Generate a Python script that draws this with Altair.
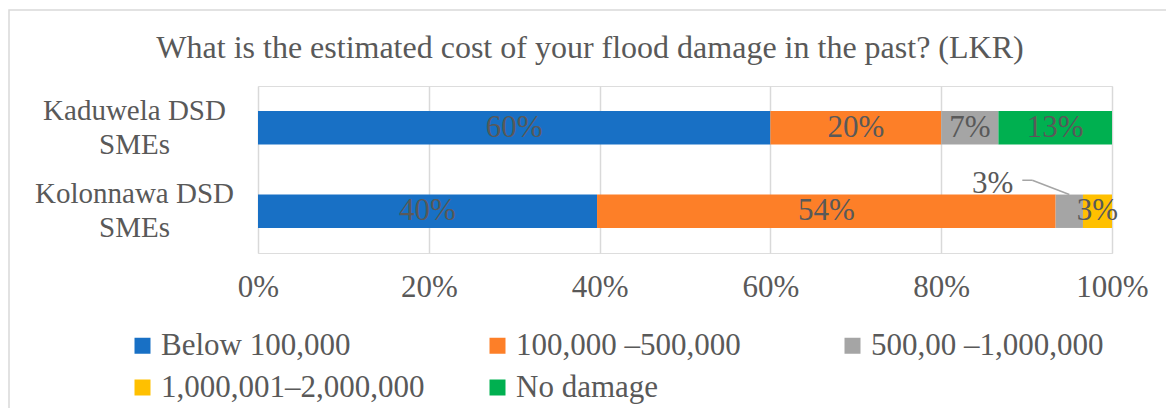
import altair as alt
import pandas as pd

title_text = "What is the estimated cost of your flood damage in the past? (LKR)"
categories = ["Kaduwela DSD\nSMEs", "Kolonnawa DSD\nSMEs"]
series = ["Below 100,000", "100,000 –500,000", "500,00 –1,000,000",
          "1,000,001–2,000,000", "No damage"]
colors = ["#1870C5", "#FD7F28", "#A5A5A5", "#FFC000", "#00B050"]
kaduwela = [60.0, 20.0, 6.7, 0.0, 13.3]
kolonnawa = [39.7, 53.7, 3.2, 3.4, 0.0]
kaduwela_labels = ["60%", "20%", "7%", "", "13%"]
kolonnawa_labels = ["40%", "54%", "3%", "3%", ""]

rows = []
for cat, vals, labs in [(categories[0], kaduwela, kaduwela_labels),
                        (categories[1], kolonnawa, kolonnawa_labels)]:
    start = 0.0
    for i, (s, v, lab) in enumerate(zip(series, vals, labs)):
        if v > 0:
            rows.append({"cat": cat, "series": s, "order": i, "value": v,
                         "start": start, "end": start + v,
                         "mid": start + v / 2, "label": lab})
        start += v
df = pd.DataFrame(rows)

FONT = "Liberation Serif"
TXT = "#595959"
W, H = 854, 167

yenc = alt.Y("cat:N", sort=categories, title=None,
             scale=alt.Scale(paddingInner=0.6, paddingOuter=0.3),
             axis=alt.Axis(labelExpr="split(datum.label, '\\n')",
                           labelAlign="center", labelBaseline="middle",
                           labelPadding=124, labelFontSize=29,
                           labelLineHeight=34, labelOffset=-17,
                           labelColor=TXT,
                           labelFont=FONT, domain=False, ticks=False,
                           grid=False, labelLimit=400))

base = alt.Chart(df)
one = pd.DataFrame({"a": [0]})

border = alt.Chart(one).mark_rect(
    fill="transparent", stroke="#D9D9D9", strokeWidth=1.5
).encode(x=alt.value(-249), x2=alt.value(W + 200),
         y=alt.value(-76), y2=alt.value(H + 300))

title = alt.Chart(one).mark_text(
    text=title_text, font=FONT, fontSize=32, color=TXT,
    align="center", baseline="alphabetic"
).encode(x=alt.value(332), y=alt.value(-28))

bars = base.mark_bar().encode(
    x=alt.X("start:Q", scale=alt.Scale(domain=[0, 100], nice=False),
            title=None,
            axis=alt.Axis(values=[0, 20, 40, 60, 80, 100],
                          labelExpr="datum.value + '%'",
                          labelFontSize=31, labelColor=TXT, labelFont=FONT,
                          labelPadding=19, labelFlush=False,
                          domain=False, ticks=False,
                          grid=True, gridColor="#D9D9D9", gridWidth=1.5)),
    x2="end:Q",
    y=yenc,
    color=alt.Color("series:N", sort=series,
                    scale=alt.Scale(domain=series, range=colors),
                    legend=alt.Legend(title=None, orient="none",
                                      legendX=-131, legendY=244,
                                      direction="horizontal", columns=3,
                                      gridAlign="all", columnPadding=57,
                                      rowPadding=10, padding=0,
                                      symbolType="square", symbolSize=256,
                                      symbolStrokeWidth=0, labelOffset=3,
                                      labelFontSize=31, labelFont=FONT,
                                      labelColor=TXT, labelLimit=500)),
)

normal = df[~((df["cat"] == categories[1]) & (df["series"] == series[2]))]
callout = df[(df["cat"] == categories[1]) & (df["series"] == series[2])]

labels = alt.Chart(normal).mark_text(
    font=FONT, fontSize=31, color=TXT, baseline="middle", align="center"
).encode(x="mid:Q", y=alt.Y("cat:N", sort=categories), text="label:N")

callout_text = alt.Chart(callout).mark_text(
    font=FONT, fontSize=31, color=TXT, baseline="middle", align="right",
    dx=-56, dy=-27
).encode(x="mid:Q", y=alt.Y("cat:N", sort=categories), text="label:N")

leader1 = alt.Chart(callout).mark_rule(
    color="#A5A5A5", strokeWidth=1.5, yOffset=-16.7, y2Offset=-31,
    x2Offset=-37
).encode(x="mid:Q", x2="mid:Q", y=alt.Y("cat:N", sort=categories),
         y2="cat:N")

leader2 = alt.Chart(callout).mark_rule(
    color="#A5A5A5", strokeWidth=1.5, xOffset=-37, x2Offset=-47,
    yOffset=-31, y2Offset=-31
).encode(x="mid:Q", x2="mid:Q", y=alt.Y("cat:N", sort=categories),
         y2="cat:N")

chart = alt.layer(border, title, bars, labels, callout_text, leader1,
                  leader2).properties(
    width=W, height=H,
    padding={"left": 258, "top": 86, "right": 54, "bottom": 155},
    autosize=alt.AutoSizeParams(type="none"),
).configure_view(strokeWidth=0).configure(background="white")

chart.save("out.html", embed_options={"renderer": "svg", "actions": False})
